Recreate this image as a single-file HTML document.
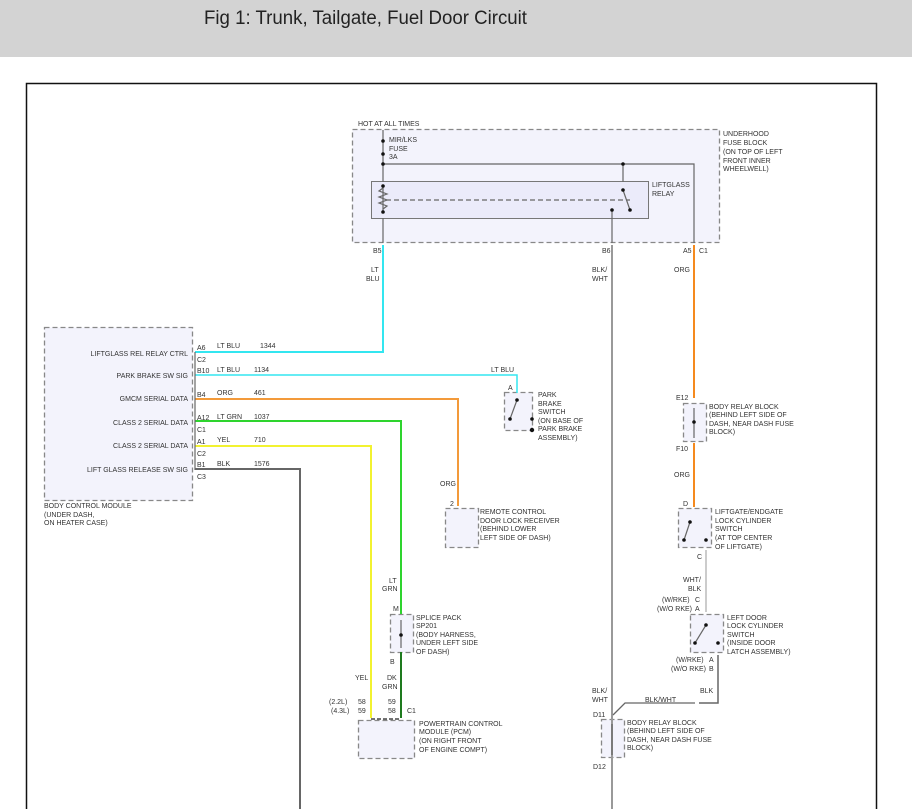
<!DOCTYPE html>
<html><head><meta charset="utf-8"><style>
html,body{margin:0;padding:0;background:#fff;width:912px;height:809px;overflow:hidden}
svg{display:block}
text{font-family:"Liberation Sans",sans-serif;font-size:7px;fill:#333}
</style></head><body>
<svg width="912" height="809" viewBox="0 0 912 809">
<rect x="0" y="0" width="912" height="57" fill="#d3d3d3"/>
<text x="204" y="24" style="font-size:19px;fill:#222" textLength="323" lengthAdjust="spacingAndGlyphs">Fig 1: Trunk, Tailgate, Fuel Door Circuit</text>
<rect x="26.5" y="83.5" width="850" height="740" fill="#fff" stroke="#111" stroke-width="1.5"/>

<g stroke="#888" stroke-width="1.3" stroke-dasharray="5,3" fill="#f3f3fc">
<rect x="352.5" y="129.5" width="367" height="113"/>
<rect x="44.5" y="327.5" width="148" height="173"/>
<rect x="504.5" y="392.5" width="28" height="38"/>
<rect x="445.5" y="508.5" width="33" height="39"/>
<rect x="390.5" y="614.5" width="23" height="38"/>
<rect x="358.5" y="720.5" width="56" height="38"/>
<rect x="683.5" y="403.5" width="23" height="38"/>
<rect x="678.5" y="508.5" width="33" height="39"/>
<rect x="690.5" y="614.5" width="33" height="38"/>
<rect x="601.5" y="719.5" width="23" height="38"/>
</g>
<rect x="371.5" y="181.5" width="277" height="37" fill="#ebebfa" stroke="#777" stroke-width="1"/>

<!-- wires -->
<g fill="none" stroke-width="2">
<polyline points="383,245 383,352 195,352" stroke="#33e6f0"/>
<polyline points="195,375 517,375 517,393" stroke="#33e6f0" stroke-width="1.5"/>
<polyline points="195,399 458,399 458,506" stroke="#f39a3a"/>
<polyline points="195,421 401,421 401,614" stroke="#2ed42e"/>
<polyline points="401,652 401,718" stroke="#1e7a1e"/>
<polyline points="195,446 371,446 371,718" stroke="#f2f230"/>
<polyline points="195,469 300,469 300,809" stroke="#666"/>
<polyline points="694,245 694,398" stroke="#f58a1e"/>
<polyline points="694,443 694,507" stroke="#f58a1e"/>
<polyline points="612,245 612,809" stroke="#999"/>
<polyline points="706,550 706,612" stroke="#bbb" stroke-width="1.5"/>
<polyline points="718,655 718,703 699,703" stroke="#666" stroke-width="1.5"/>
<polyline points="695,703 625,703 613,715" stroke="#666" stroke-width="1.3"/>
</g>
<!-- internal fuse block -->
<g fill="none" stroke="#666" stroke-width="1.2">
<line x1="383" y1="130" x2="383" y2="182"/>
<polyline points="383,164 694,164 694,243"/>
<line x1="623" y1="164" x2="623" y2="182"/>
<line x1="383" y1="218" x2="383" y2="243"/>
<line x1="612" y1="210" x2="612" y2="243"/>
<line x1="383" y1="185" x2="383" y2="213"/>
<path d="M383,188 l-4,3 l8,3 l-8,3 l8,3 l-8,3 l8,3 l-4,3"/>
<line x1="386" y1="200" x2="630" y2="200" stroke-dasharray="5,3"/>
<line x1="623" y1="190" x2="630" y2="210"/>
<line x1="401" y1="620" x2="401" y2="648"/>
<line x1="694" y1="408" x2="694" y2="438"/>
<line x1="612" y1="724" x2="612" y2="755"/>
<line x1="510" y1="419" x2="517" y2="400"/>
<line x1="684" y1="540" x2="690" y2="522"/>
<line x1="695" y1="643" x2="706" y2="625"/>
<line x1="195" y1="352" x2="195" y2="470"/>
<line x1="371" y1="719" x2="401" y2="719" stroke="#222" stroke-dasharray="4,2"/>
</g>
<g fill="#111">
<circle cx="383" cy="141" r="1.8"/><circle cx="383" cy="154" r="1.8"/><circle cx="383" cy="164" r="1.8"/>
<circle cx="623" cy="164" r="1.8"/><circle cx="383" cy="186" r="1.8"/><circle cx="383" cy="212" r="1.8"/>
<circle cx="623" cy="190" r="1.8"/><circle cx="630" cy="210" r="1.8"/><circle cx="612" cy="210" r="1.8"/>
<circle cx="401" cy="635" r="1.8"/><circle cx="694" cy="422" r="1.8"/>
<circle cx="517" cy="400" r="1.8"/><circle cx="510" cy="419" r="1.8"/><circle cx="532" cy="419" r="1.8"/><circle cx="532" cy="430" r="2.2"/>
<circle cx="690" cy="522" r="1.8"/><circle cx="684" cy="540" r="1.8"/><circle cx="706" cy="540" r="1.8"/>
<circle cx="706" cy="625" r="1.8"/><circle cx="695" cy="643" r="1.8"/><circle cx="718" cy="643" r="1.8"/>
</g>

<text x="358" y="126">HOT AT ALL TIMES</text>
<text x="389" y="142">MIR/LKS</text><text x="389" y="151">FUSE</text><text x="389" y="159">3A</text>
<text x="723" y="136">UNDERHOOD</text><text x="723" y="145">FUSE BLOCK</text><text x="723" y="154">(ON TOP OF LEFT</text><text x="723" y="163">FRONT INNER</text><text x="723" y="171">WHEELWELL)</text>
<text x="652" y="187">LIFTGLASS</text><text x="652" y="196">RELAY</text>
<text x="373" y="253">B5</text><text x="602" y="253">B6</text><text x="683" y="253">A5</text><text x="699" y="253">C1</text>
<text x="371" y="272">LT</text><text x="366" y="281">BLU</text>
<text x="592" y="272">BLK/</text><text x="592" y="281">WHT</text>
<text x="674" y="272">ORG</text>

<g text-anchor="end">
<text x="188" y="356">LIFTGLASS REL RELAY CTRL</text>
<text x="188" y="378">PARK BRAKE SW SIG</text>
<text x="188" y="401">GMCM SERIAL DATA</text>
<text x="188" y="425">CLASS 2 SERIAL DATA</text>
<text x="188" y="448">CLASS 2 SERIAL DATA</text>
<text x="188" y="472">LIFT GLASS RELEASE SW SIG</text>
</g>
<text x="197" y="350">A6</text><text x="197" y="362">C2</text>
<text x="197" y="373">B10</text><text x="197" y="397">B4</text>
<text x="197" y="420">A12</text><text x="197" y="432">C1</text>
<text x="197" y="444">A1</text><text x="197" y="456">C2</text>
<text x="197" y="467">B1</text><text x="197" y="479">C3</text>
<text x="217" y="348">LT BLU</text><text x="260" y="348">1344</text>
<text x="217" y="372">LT BLU</text><text x="254" y="372">1134</text>
<text x="217" y="395">ORG</text><text x="254" y="395">461</text>
<text x="217" y="419">LT GRN</text><text x="254" y="419">1037</text>
<text x="217" y="442">YEL</text><text x="254" y="442">710</text>
<text x="217" y="466">BLK</text><text x="254" y="466">1576</text>
<text x="44" y="508">BODY CONTROL MODULE</text><text x="44" y="517">(UNDER DASH,</text><text x="44" y="525">ON HEATER CASE)</text>
<text x="491" y="372">LT BLU</text><text x="508" y="390">A</text>
<text x="538" y="397">PARK</text><text x="538" y="406">BRAKE</text><text x="538" y="414">SWITCH</text><text x="538" y="423">(ON BASE OF</text><text x="538" y="431">PARK BRAKE</text><text x="538" y="440">ASSEMBLY)</text>
<text x="440" y="486">ORG</text><text x="450" y="506">2</text>
<text x="480" y="514">REMOTE CONTROL</text><text x="480" y="523">DOOR LOCK RECEIVER</text><text x="480" y="531">(BEHIND LOWER</text><text x="480" y="540">LEFT SIDE OF DASH)</text>
<text x="389" y="583">LT</text><text x="382" y="591">GRN</text><text x="393" y="611">M</text>
<text x="416" y="620">SPLICE PACK</text><text x="416" y="628">SP201</text><text x="416" y="637">(BODY HARNESS,</text><text x="416" y="645">UNDER LEFT SIDE</text><text x="416" y="654">OF DASH)</text>
<text x="390" y="664">B</text>
<text x="355" y="680">YEL</text><text x="387" y="680">DK</text><text x="382" y="689">GRN</text>
<text x="329" y="704">(2.2L)</text><text x="358" y="704">58</text><text x="388" y="704">59</text>
<text x="331" y="713">(4.3L)</text><text x="358" y="713">59</text><text x="388" y="713">58</text><text x="407" y="713">C1</text>
<text x="419" y="726">POWERTRAIN CONTROL</text><text x="419" y="734">MODULE (PCM)</text><text x="419" y="743">(ON RIGHT FRONT</text><text x="419" y="752">OF ENGINE COMPT)</text>
<text x="676" y="400">E12</text>
<text x="709" y="409">BODY RELAY BLOCK</text><text x="709" y="417">(BEHIND LEFT SIDE OF</text><text x="709" y="426">DASH, NEAR DASH FUSE</text><text x="709" y="434">BLOCK)</text>
<text x="676" y="451">F10</text><text x="674" y="477">ORG</text>
<text x="683" y="506">D</text>
<text x="715" y="514">LIFTGATE/ENDGATE</text><text x="715" y="523">LOCK CYLINDER</text><text x="715" y="531">SWITCH</text><text x="715" y="540">(AT TOP CENTER</text><text x="715" y="549">OF LIFTGATE)</text>
<text x="697" y="559">C</text>
<text x="683" y="582">WHT/</text><text x="688" y="591">BLK</text>
<text x="662" y="602">(W/RKE)</text><text x="695" y="602">C</text>
<text x="657" y="611">(W/O RKE)</text><text x="695" y="611">A</text>
<text x="727" y="620">LEFT DOOR</text><text x="727" y="628">LOCK CYLINDER</text><text x="727" y="637">SWITCH</text><text x="727" y="645">(INSIDE DOOR</text><text x="727" y="654">LATCH ASSEMBLY)</text>
<text x="676" y="662">(W/RKE)</text><text x="709" y="662">A</text>
<text x="671" y="671">(W/O RKE)</text><text x="709" y="671">B</text>
<text x="592" y="693">BLK/</text><text x="592" y="702">WHT</text>
<text x="700" y="693">BLK</text><text x="645" y="702">BLK/WHT</text>
<text x="593" y="717">D11</text>
<text x="627" y="725">BODY RELAY BLOCK</text><text x="627" y="733">(BEHIND LEFT SIDE OF</text><text x="627" y="742">DASH, NEAR DASH FUSE</text><text x="627" y="750">BLOCK)</text>
<text x="593" y="769">D12</text>
</svg>
</body></html>
